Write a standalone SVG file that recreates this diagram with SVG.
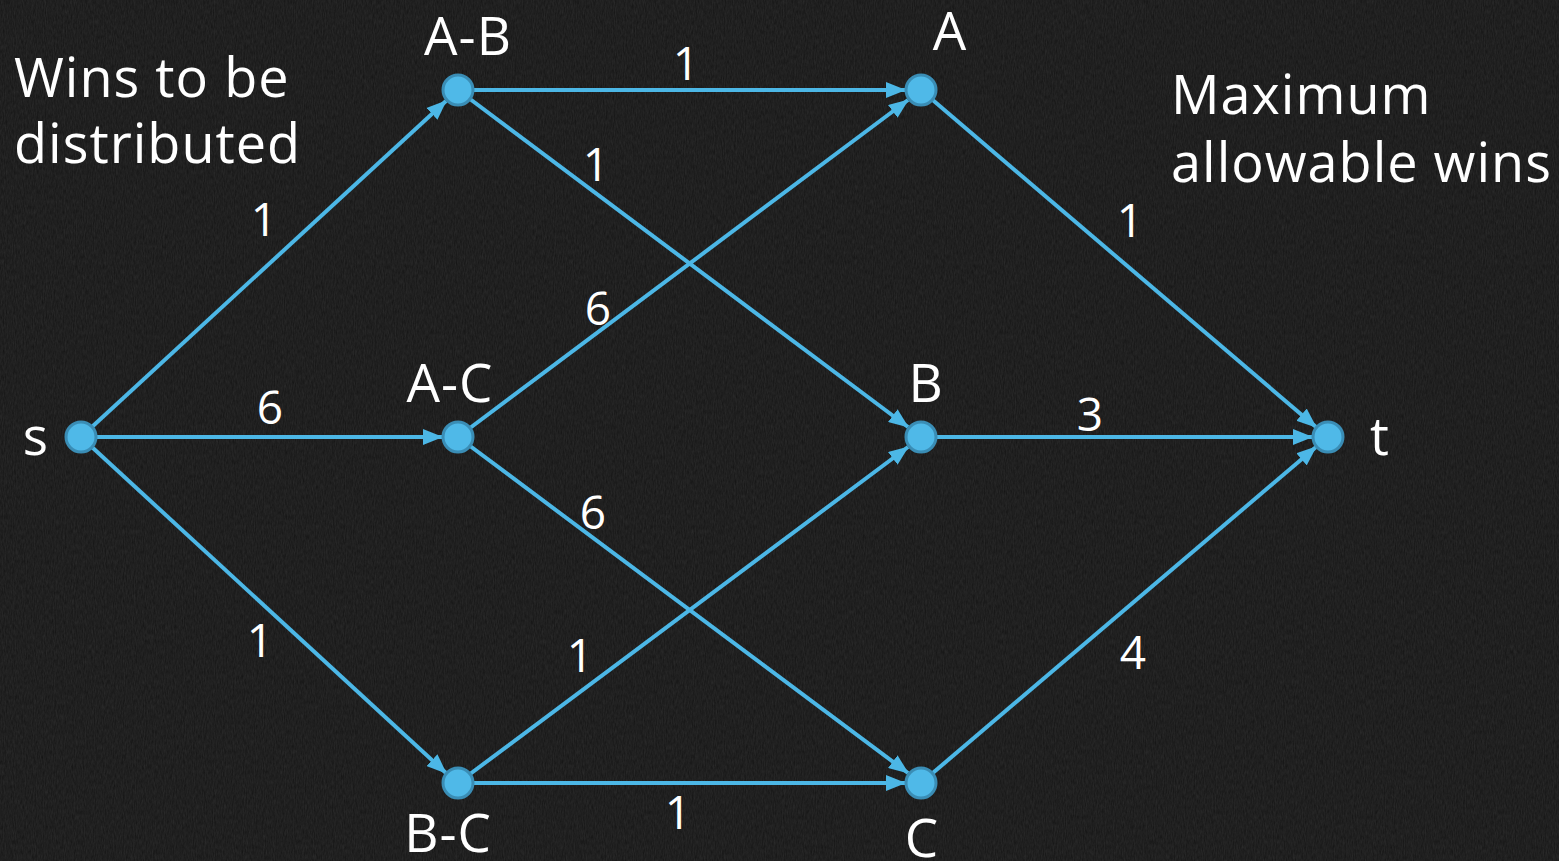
<svg xmlns="http://www.w3.org/2000/svg" width="1559" height="861" viewBox="0 0 1559 861">
<style>
.lbl{font-family:"Open Sans",Lato,"Liberation Sans",sans-serif;fill:#ffffff;font-size:53px;letter-spacing:1px}
.cap{font-family:"Open Sans",Lato,"Liberation Sans",sans-serif;fill:#ffffff;font-size:54px;letter-spacing:1px}
.num{font-family:"Open Sans",Lato,"Liberation Sans",sans-serif;fill:#ffffff;font-size:46px;text-anchor:middle}
.edge{stroke:#4cb7e6;stroke-width:4;fill:none;marker-end:url(#ah)}
.node{fill:#4fb9e8;stroke:#3a8db5;stroke-width:3}
</style>
<defs>
<marker id="ah" markerWidth="20" markerHeight="16" refX="19" refY="8" orient="auto" markerUnits="userSpaceOnUse">
<path d="M0,0 L20,8 L0,16 Z" fill="#4cb7e6"/>
</marker>
<filter id="noise" x="0" y="0" width="100%" height="100%">
<feTurbulence type="fractalNoise" baseFrequency="0.9 0.2" numOctaves="3" seed="4"/>
<feColorMatrix type="matrix" values="0 0 0 0 1  0 0 0 0 1  0 0 0 0 1  0 0 0 0.1 0"/>
</filter>
</defs>
<rect width="1559" height="861" fill="#141414"/>
<rect width="1559" height="861" filter="url(#noise)"/>
<g id="connectors">
<line class="edge" x1="81" y1="437" x2="446" y2="101"/>
<line class="edge" x1="81" y1="437" x2="442" y2="437"/>
<line class="edge" x1="81" y1="437" x2="446" y2="773"/>
<line class="edge" x1="458" y1="90" x2="905" y2="90"/>
<line class="edge" x1="458" y1="90" x2="908" y2="427"/>
<line class="edge" x1="458" y1="437" x2="908" y2="100"/>
<line class="edge" x1="458" y1="437" x2="908" y2="773"/>
<line class="edge" x1="458" y1="783" x2="908" y2="447"/>
<line class="edge" x1="458" y1="783" x2="905" y2="783"/>
<line class="edge" x1="921" y1="90" x2="1316" y2="427"/>
<line class="edge" x1="921" y1="437" x2="1312" y2="437"/>
<line class="edge" x1="921" y1="783" x2="1316" y2="447"/>
</g>
<g id="edge-labels">
<text class="num" x="686" y="80">1</text>
<text class="num" x="596" y="181">1</text>
<text class="num" x="264" y="236">1</text>
<text class="num" x="598" y="325">6</text>
<text class="num" x="270" y="424">6</text>
<text class="num" x="1090" y="431">3</text>
<text class="num" x="593" y="529">6</text>
<text class="num" x="1130" y="237">1</text>
<text class="num" x="260" y="657">1</text>
<text class="num" x="580" y="672">1</text>
<text class="num" x="1133" y="669">4</text>
<text class="num" x="678" y="829">1</text>
</g>
<g id="node-s"><circle class="node" cx="81" cy="437" r="15"/><text class="lbl" x="36" y="455" text-anchor="middle">s</text></g>
<g id="node-AB"><circle class="node" cx="458" cy="90" r="15"/><text class="lbl" x="468" y="55" text-anchor="middle">A-B</text></g>
<g id="node-AC"><circle class="node" cx="458" cy="437" r="15"/><text class="lbl" x="450" y="402" text-anchor="middle">A-C</text></g>
<g id="node-BC"><circle class="node" cx="458" cy="783" r="15"/><text class="lbl" x="448" y="852" text-anchor="middle">B-C</text></g>
<g id="node-A"><circle class="node" cx="921" cy="90" r="15"/><text class="lbl" x="950" y="50" text-anchor="middle">A</text></g>
<g id="node-B"><circle class="node" cx="921" cy="437" r="15"/><text class="lbl" x="926" y="402" text-anchor="middle">B</text></g>
<g id="node-C"><circle class="node" cx="921" cy="783" r="15"/><text class="lbl" x="922" y="857" text-anchor="middle">C</text></g>
<g id="node-t"><circle class="node" cx="1328" cy="437" r="15"/><text class="lbl" x="1380" y="455" text-anchor="middle">t</text></g>
<g id="captions">
<text class="cap" x="14" y="97">Wins to be</text>
<text class="cap" x="14" y="163">distributed</text>
<text class="cap" x="1171" y="114">Maximum</text>
<text class="cap" x="1171" y="182">allowable wins</text>
</g>
</svg>
